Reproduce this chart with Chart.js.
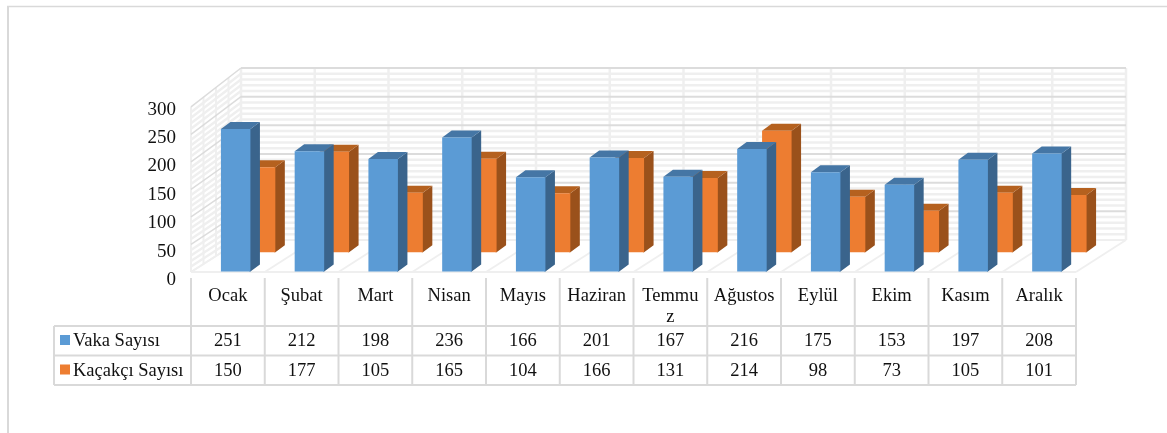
<!DOCTYPE html>
<html>
<head>
<meta charset="utf-8">
<title>Vaka ve Kaçakçı Sayısı</title>
<script src="https://cdn.jsdelivr.net/npm/chart.js@4"></script>
<style>
  html, body { margin: 0; padding: 0; background: #fff; overflow: hidden; }
  canvas { display: block; filter: blur(0.4px); }
</style>
</head>
<body>
<canvas id="chart" width="1167" height="433"></canvas>
<script>
// data
const categories = ['Ocak', 'Şubat', 'Mart', 'Nisan', 'Mayıs', 'Haziran', 'Temmuz', 'Ağustos', 'Eylül', 'Ekim', 'Kasım', 'Aralık'];
const vakaSayisi = [251, 212, 198, 236, 166, 201, 167, 216, 175, 153, 197, 208];
const kacakciSayisi = [150, 177, 105, 165, 104, 166, 131, 214, 98, 73, 105, 101];
const seriesNames = ['Vaka Sayısı', 'Kaçakçı Sayısı'];

const FONT = '"Liberation Serif", "Times New Roman", serif';
const TEXT = '#111';
const GRID_MAJOR = '#dcdcdc';
const GRID_MINOR = '#efefef';
const TABLE_LINE = '#d9d9d9';

// looks of the fake 3d per series
const looks = [
    { front: '#5b9bd5', top: '#4576a5', side: '#3a648c', dx: 7.8, dy: 0 },
    { front: '#ed7d31', top: '#b5611f', side: '#9a511b', dx: 32.7, dy: -19.2 }
];
const BAR_DX = 9.5, BAR_DY = -7;
const WALL_DX = 50;

// front and back wall heights differ a little because of the perspective
const frontY = (s, v) => 272 - (s.getPixelForValue(0) - s.getPixelForValue(v)) * 0.97;
const backY = (s, v) => 240 - (s.getPixelForValue(0) - s.getPixelForValue(v)) * 1.01;

function line(ctx, x1, y1, x2, y2, color, width) {
    ctx.strokeStyle = color;
    ctx.lineWidth = width;
    ctx.beginPath();
    ctx.moveTo(x1, y1);
    ctx.lineTo(x2, y2);
    ctx.stroke();
}

function poly(ctx, color, pts) {
    ctx.fillStyle = color;
    ctx.beginPath();
    pts.forEach((p, i) => i ? ctx.lineTo(p[0], p[1]) : ctx.moveTo(p[0], p[1]));
    ctx.closePath();
    ctx.fill();
}

const walls = {
    id: 'walls',
    beforeDatasetsDraw(chart) {
        const { ctx, chartArea } = chart;
        const ys = chart.scales.y;
        const left = chartArea.left, right = chartArea.right;
        const band = (right - left) / categories.length;
        ctx.save();

        // floor and vertical lines
        for (let i = 0; i <= categories.length; i++) {
            const x = left + band * i;
            line(ctx, x, frontY(ys, 0), x + WALL_DX, backY(ys, 0), GRID_MINOR, 2);
            line(ctx, x + WALL_DX, backY(ys, 300), x + WALL_DX, backY(ys, 0), GRID_MINOR, 2.5);
        }
        line(ctx, left, frontY(ys, 0), right, frontY(ys, 0), GRID_MINOR, 2);

        // left wall depth lines
        for (let k = 0; k <= 4; k++) {
            const f = k / 4;
            const x = left + WALL_DX * f;
            const yTop = frontY(ys, 300) + (backY(ys, 300) - frontY(ys, 300)) * f;
            const yBot = frontY(ys, 0) + (backY(ys, 0) - frontY(ys, 0)) * f;
            line(ctx, x, yTop, x, yBot, GRID_MINOR, 2);
        }

        // value lines, minor first
        for (let v = 0; v <= 300; v += 10) {
            if (v % 50 === 0) continue;
            line(ctx, left, frontY(ys, v), left + WALL_DX, backY(ys, v), GRID_MINOR, 2.5);
            line(ctx, left + WALL_DX, backY(ys, v), right + WALL_DX, backY(ys, v), GRID_MINOR, 2.5);
        }
        ys.ticks.forEach(t => {
            line(ctx, left, frontY(ys, t.value), left + WALL_DX, backY(ys, t.value), t.value ? GRID_MAJOR : GRID_MINOR, t.value ? 1.5 : 2);
            line(ctx, left + WALL_DX, backY(ys, t.value), right + WALL_DX, backY(ys, t.value), t.value ? GRID_MAJOR : GRID_MINOR, 2);
        });
        ctx.restore();
    },
    beforeDatasetDraw(chart, args) {
        const { ctx } = chart;
        const look = looks[args.index];
        ctx.save();
        ctx.translate(look.dx, look.dy);
        args.meta.data.forEach(bar => {
            const l = bar.x - bar.width / 2, r = bar.x + bar.width / 2;
            // side starts a bit under the front face so nothing shines through the seam
            poly(ctx, look.side, [[r - 1, bar.y], [r, bar.y], [r + BAR_DX, bar.y + BAR_DY], [r + BAR_DX, bar.base + BAR_DY], [r, bar.base], [r - 1, bar.base]]);
            poly(ctx, look.top, [[l, bar.y], [l + BAR_DX, bar.y + BAR_DY], [r + BAR_DX, bar.y + BAR_DY], [r, bar.y]]);
        });
    },
    afterDatasetDraw(chart) {
        chart.ctx.restore();
    },
    afterDraw(chart) {
        const { ctx, chartArea } = chart;
        const xs = chart.scales.x;
        const left = chartArea.left, right = chartArea.right;
        const band = (right - left) / categories.length;
        const tableTop = 278, row1 = 326, row2 = 355.5, row3 = 385, tableLeft = 54;
        ctx.save();

        // outer frame of the picture
        line(ctx, 8, 6, 8, 433, TABLE_LINE, 2);
        line(ctx, 7, 6.5, 1167, 6.5, TABLE_LINE, 1.5);

        // data table lines
        for (let i = 0; i <= categories.length; i++) {
            const x = left + band * i;
            line(ctx, x, tableTop, x, row3, TABLE_LINE, 2);
        }
        line(ctx, tableLeft, row1, tableLeft, row3, TABLE_LINE, 2);
        [row1, row2, row3].forEach(y => line(ctx, tableLeft, y, right, y, TABLE_LINE, 2));

        // data table text
        ctx.font = '18.5px ' + FONT;
        ctx.textBaseline = 'middle';
        ctx.textAlign = 'left';
        [row1, row2].forEach((y, r) => {
            ctx.fillStyle = looks[r].front;
            ctx.fillRect(60, y + 9, 10, 10);
            ctx.fillStyle = TEXT;
            ctx.fillText(seriesNames[r], 73, y + 15.5);
        });
        ctx.textAlign = 'center';
        [vakaSayisi, kacakciSayisi].forEach((vals, r) => {
            const y = [row1, row2][r] + 15.5;
            vals.forEach((v, i) => ctx.fillText(v, xs.getPixelForValue(i), y));
        });
        ctx.restore();
    }
};

new Chart(document.getElementById('chart'), {
    type: 'bar',
    data: {
        labels: categories,
        datasets: [
            { label: seriesNames[0], data: vakaSayisi, backgroundColor: looks[0].front, grouped: false, clip: false },
            { label: seriesNames[1], data: kacakciSayisi, backgroundColor: looks[1].front, grouped: false, clip: false }
        ]
    },
    options: {
        responsive: false,
        animation: false,
        layout: { padding: { left: 0, right: 91, top: 101.2, bottom: 110 } },
        datasets: { bar: { barPercentage: 0.4, categoryPercentage: 1 } },
        plugins: { legend: { display: false }, tooltip: { enabled: false }, title: { display: false } },
        scales: {
            x: {
                grid: { display: false, drawTicks: false },
                border: { display: false },
                afterFit: s => { s.height = 51.5; },
                ticks: {
                    autoSkip: false,
                    maxRotation: 0,
                    padding: 14,
                    color: TEXT,
                    font: { family: FONT, size: 18.5, lineHeight: 1.14 },
                    // Excel wraps the long name inside its table cell
                    callback(value) {
                        const name = categories[value];
                        return name === 'Temmuz' ? ['Temmu', 'z'] : name;
                    }
                }
            },
            y: {
                min: 0,
                max: 300,
                grid: { display: false, drawTicks: false },
                border: { display: false },
                afterFit: s => { s.width = 191; },
                ticks: {
                    stepSize: 50,
                    padding: 15,
                    labelOffset: 8.5,
                    color: TEXT,
                    font: { family: FONT, size: 19 }
                }
            }
        }
    },
    plugins: [walls]
});
</script>
</body>
</html>
